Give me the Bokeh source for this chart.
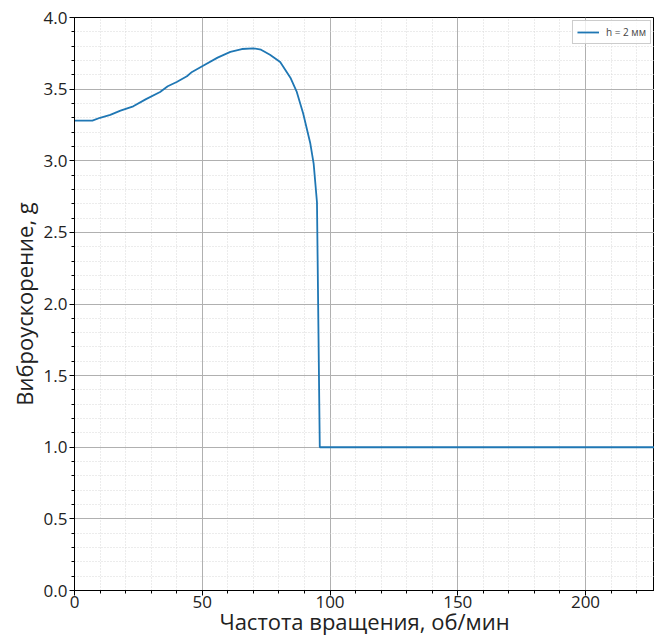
from bokeh.plotting import figure
from bokeh.models import Range1d, SingleIntervalTicker, Legend, LegendItem, CustomJSTickFormatter
from bokeh.embed import file_html
from bokeh.resources import INLINE

# data
freq = [0, 7, 10, 14, 18, 23, 28, 33.5, 36.5, 40, 44, 46, 50.5, 56, 61, 65.5,
        70, 73, 76.5, 80.5, 84.5, 87, 89.5, 92.3, 93.6, 94.9, 96, 240]
accel = [3.28, 3.28, 3.30, 3.32, 3.35, 3.38, 3.43, 3.48, 3.52, 3.55, 3.59, 3.62,
         3.665, 3.72, 3.76, 3.78, 3.785, 3.775, 3.74, 3.69, 3.58, 3.48, 3.33,
         3.12, 2.98, 2.71, 1.0, 1.0]
series_label = "h = 2 мм"
x_label = "Частота вращения, об/мин"
y_label = "Виброускорение, g"

FONT = "Open Sans"

p = figure(width=654, height=639, output_backend="svg", toolbar_location=None,
           x_range=Range1d(0, 227), y_range=Range1d(0, 4.0),
           min_border_left=74, min_border_right=0, min_border_top=17,
           min_border_bottom=49)
p.background_fill_color = "white"
p.border_fill_color = "white"
p.outline_line_color = "black"
p.outline_line_width = 1

r = p.line(freq, accel, line_color="#1f77b4", line_width=1.8)

p.xaxis.ticker = SingleIntervalTicker(interval=50, num_minor_ticks=5)
p.yaxis.ticker = SingleIntervalTicker(interval=0.5, num_minor_ticks=5)

for ax in (p.xaxis, p.yaxis):
    ax.axis_line_color = "black"
    ax.major_tick_line_color = "black"
    ax.minor_tick_line_color = "black"
    ax.major_tick_out = 5
    ax.major_tick_in = 0
    ax.minor_tick_out = 3
    ax.minor_tick_in = 0
    ax.major_label_text_font = FONT
    ax.major_label_text_font_size = "17px"
    ax.major_label_text_color = "#222222"
    ax.axis_label_text_font = FONT
    ax.axis_label_text_font_size = "22px"
    ax.axis_label_text_font_style = "normal"
    ax.axis_label_text_color = "#222222"
    ax.major_label_standoff = 2

p.xaxis.major_label_standoff = 0
p.xaxis.axis_label_standoff = -5
p.yaxis.axis_label_standoff = 2

p.xaxis.axis_label = x_label
p.yaxis.axis_label = y_label
p.yaxis.formatter = CustomJSTickFormatter(code="return tick.toFixed(1);")

for g in (p.xgrid, p.ygrid):
    g.grid_line_color = "#b0b0b0"
    g.grid_line_width = 1
    g.minor_grid_line_color = "#d8d8d8"
    g.minor_grid_line_dash = "1 2"
    g.minor_grid_line_width = 1

legend = Legend(items=[LegendItem(label=series_label, renderers=[r])],
                location="top_right")
legend.label_text_font = FONT
legend.label_text_font_size = "10px"
legend.label_standoff = 7
legend.glyph_width = 22
legend.glyph_height = 10
legend.padding = 4
legend.margin = 3
legend.spacing = 0
legend.border_line_color = "#cccccc"
legend.border_line_alpha = 1
legend.background_fill_alpha = 0.8
p.add_layout(legend)

open("out.html", "w").write(file_html(p, INLINE))
